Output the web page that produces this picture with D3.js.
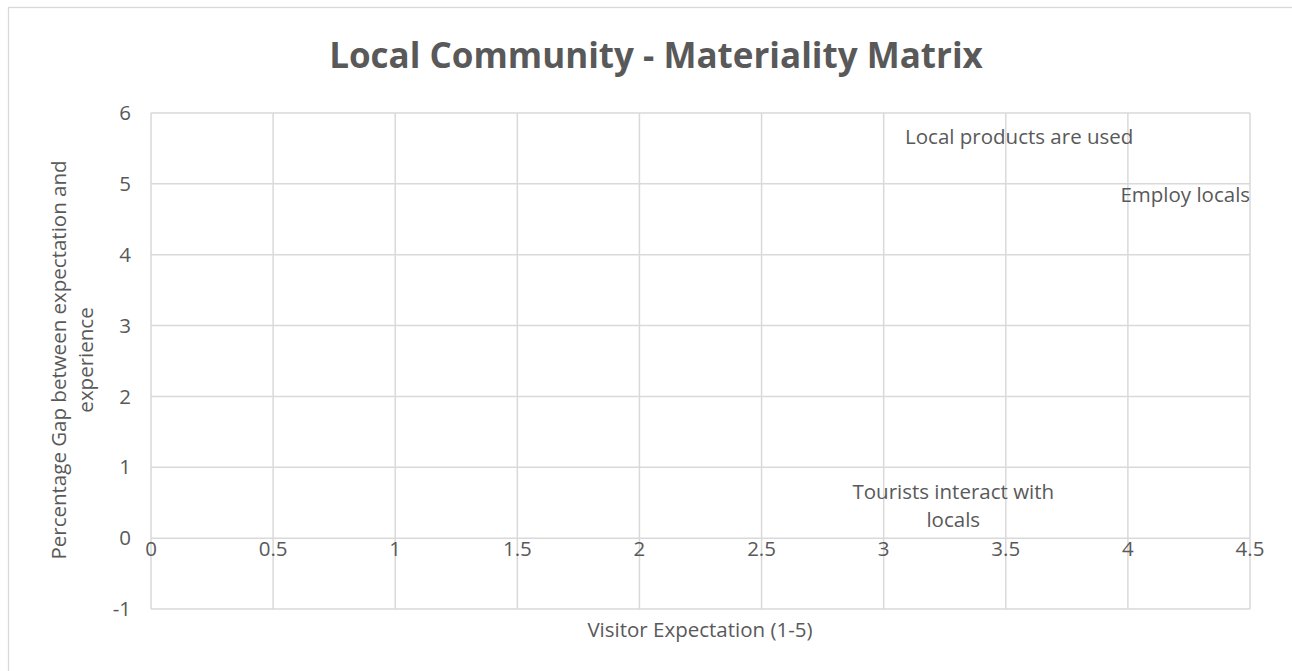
<!DOCTYPE html>
<html>
<head>
<meta charset="utf-8">
<script src="https://cdn.jsdelivr.net/npm/d3@7"></script>
<style>
  html, body { margin: 0; padding: 0; background: #fff; }
  svg { display: block; }
  text { font-family: "Open Sans", "Lato", sans-serif; fill: #595959; }
</style>
</head>
<body>
<svg id="chart" width="1292" height="671"></svg>
<script>
const titleText = "Local Community - Materiality Matrix";
const xAxisTitle = "Visitor Expectation (1-5)";
const yAxisTitleLines = ["Percentage Gap between expectation and", "experience"];
const pointNames = [["Tourists interact with", "locals"], ["Local products are used"], ["Employ locals"]];
const expectation = [3.285, 3.555, 4.235];
const gap = [0.46, 5.66, 4.85];
const xTicks = [0, 0.5, 1, 1.5, 2, 2.5, 3, 3.5, 4, 4.5];
const yTicks = [-1, 0, 1, 2, 3, 4, 5, 6];

const svg = d3.select("#chart");
const W = 1292, H = 671;
const grid = "#d9d9d9";
const fs = 20.5;

// outer chart border
svg.append("rect").attr("x", 8.5).attr("y", 7.5).attr("width", W + 10).attr("height", H + 10)
  .attr("fill", "#fff").attr("stroke", grid).attr("stroke-width", 1.3);

const x = d3.scaleLinear().domain([0, 4.5]).range([151, 1250]);
const y = d3.scaleLinear().domain([-1, 6]).range([609, 113]);

// vertical gridlines
svg.append("g").selectAll("line").data(xTicks).join("line")
  .attr("x1", d => x(d)).attr("x2", d => x(d)).attr("y1", y(6)).attr("y2", y(-1))
  .attr("stroke", grid).attr("stroke-width", 1.5);
// horizontal gridlines
svg.append("g").selectAll("line").data(yTicks).join("line")
  .attr("x1", x(0)).attr("x2", x(4.5)).attr("y1", d => y(d)).attr("y2", d => y(d))
  .attr("stroke", grid).attr("stroke-width", 1.5);

// y tick labels
svg.append("g").selectAll("text").data(yTicks).join("text")
  .attr("x", 131).attr("y", d => y(d)).attr("dy", "0.35em")
  .attr("text-anchor", "end").attr("font-size", fs).text(d => d);

// x tick labels (below the axis crossing at 0)
svg.append("g").selectAll("text").data(xTicks).join("text")
  .attr("x", d => x(d)).attr("y", y(0) + 18)
  .attr("text-anchor", "middle").attr("font-size", fs).text(d => d);

// title
svg.append("text").attr("x", 656).attr("y", 68).attr("text-anchor", "middle")
  .attr("font-size", 35).attr("font-weight", "bold").text(titleText);

// x axis title
svg.append("text").attr("x", 700).attr("y", 637).attr("text-anchor", "middle")
  .attr("font-size", fs).text(xAxisTitle);

// y axis title
const yt = svg.append("text").attr("transform", "translate(0," + 360 + ") rotate(-90)")
  .attr("text-anchor", "middle").attr("font-size", fs);
yt.selectAll("tspan").data(yAxisTitleLines).join("tspan")
  .attr("x", 0).attr("y", (d, i) => 66 + i * 27).text(d => d);

// data labels (markers are hidden)
const labels = svg.append("g").selectAll("text").data(pointNames).join("text")
  .attr("text-anchor", "middle").attr("font-size", fs);
labels.each(function (lines, i) {
  const t = d3.select(this);
  const n = lines.length;
  t.selectAll("tspan").data(lines).join("tspan")
    .attr("x", x(expectation[i]))
    .attr("y", (d, j) => y(gap[i]) + (j - (n - 1) / 2) * 28)
    .attr("dy", "0.35em")
    .text(d => d);
});
</script>
</body>
</html>
